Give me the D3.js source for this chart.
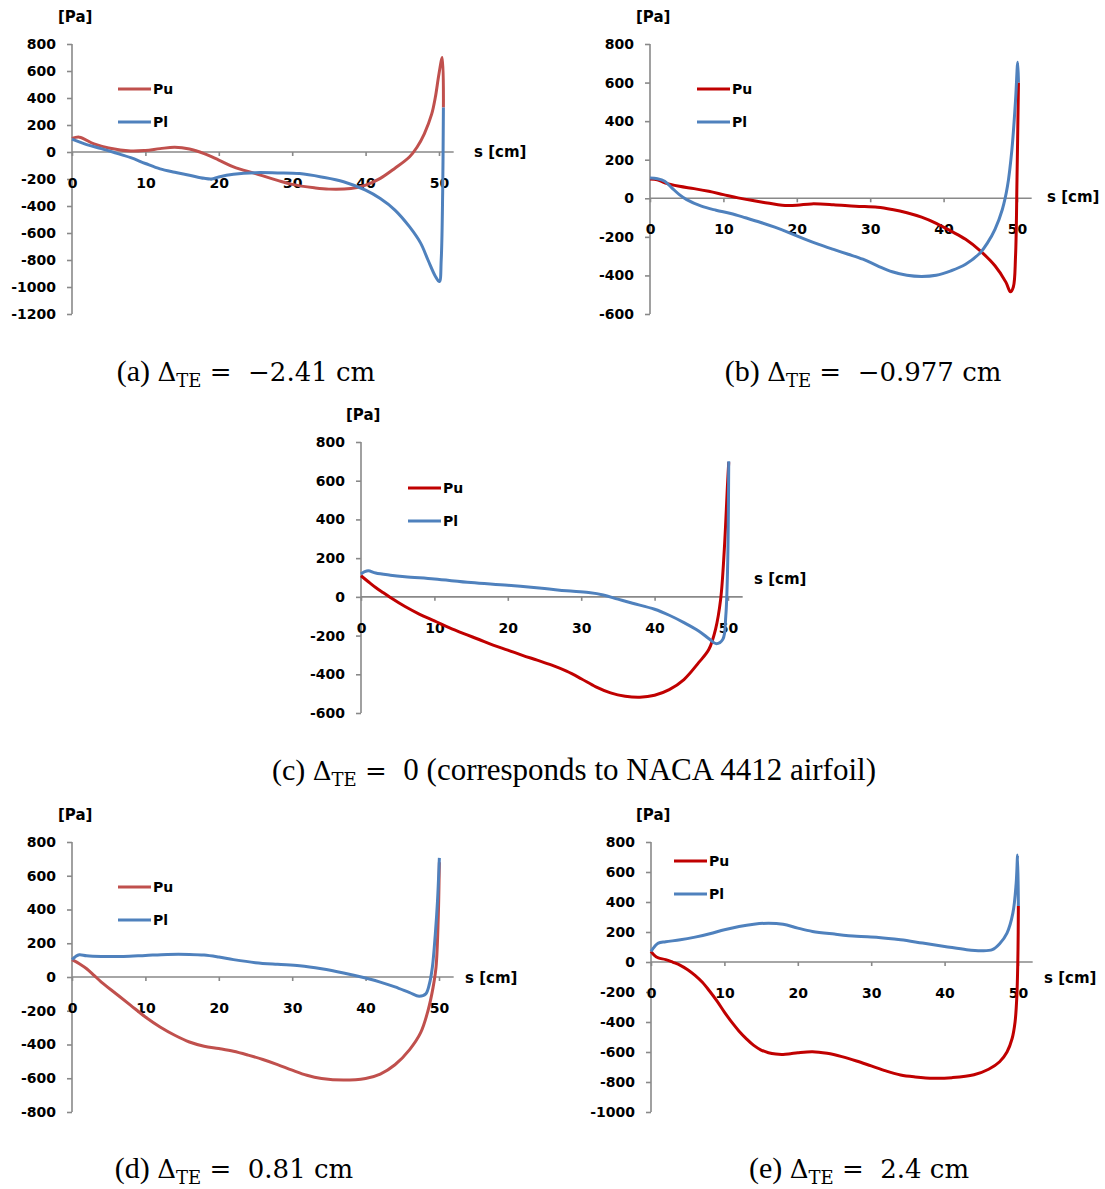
<!DOCTYPE html>
<html lang="en">
    <head>
        <meta charset="utf-8">
        <title>Pressure distribution</title>
        <script src="https://cdnjs.cloudflare.com/ajax/libs/d3/7.8.5/d3.min.js"></script>
        <style>
        body{
            margin:0;
            background-color:white;
        }
        svg text{
            font-family:"DejaVu Sans", sans-serif;
            font-weight:bold;
        }
        svg text.caption{
            font-family:"DejaVu Serif", serif;
            font-weight:normal;
            white-space:pre;
        }
        </style>
    </head>
    <body>
        <script type="text/javascript">

            // x ticks are the same for every chart
            var sTicks = [0, 10, 20, 30, 40, 50];

            var yTicksA = [800, 600, 400, 200, 0, -200, -400, -600, -800, -1000, -1200];
            var yTicksB = [800, 600, 400, 200, 0, -200, -400, -600];
            var yTicksC = [800, 600, 400, 200, 0, -200, -400, -600];
            var yTicksD = [800, 600, 400, 200, 0, -200, -400, -600, -800];
            var yTicksE = [800, 600, 400, 200, 0, -200, -400, -600, -800, -1000];

            // [s in cm, pressure in Pa]
            var puA = [[0,100],[1,110],[3,60],[5,30],[8,8],[10,12],[12,25],[14,35],[16,22],[18,-12],[20,-60],[22,-110],[25,-160],[28,-210],[30,-240],[33,-265],[35,-275],[38,-270],[40,-245],[42,-195],[44,-120],[46,-35],[47,35],[48,135],[49,280],[49.5,405],[50,580],[50.45,700],[50.6,330]];
            var plA = [[0,95],[2,55],[4,25],[6,-8],[8,-42],[10,-85],[12,-125],[14,-150],[16,-172],[18,-195],[19,-200],[20,-185],[22,-165],[25,-153],[28,-155],[31,-160],[34,-185],[37,-220],[40,-283],[42,-345],[44,-430],[46,-555],[47.5,-675],[48.5,-800],[49.5,-920],[50.05,-960],[50.3,-800],[50.5,-300],[50.6,330]];

            var puB = [[0,100],[1,96],[2,80],[4,62],[6,50],[8,36],[10,19],[12,2],[14,-12],[16,-24],[18,-36],[20,-36],[22,-29],[25,-33],[28,-41],[31,-46],[33,-58],[35,-75],[37,-98],[39,-130],[41,-170],[43,-213],[45,-273],[47,-350],[48.5,-436],[49.1,-485],[49.5,-460],[49.8,-300],[50.0,100],[50.2,600]];
            var plB = [[0,105],[1,101],[2,88],[3,53],[4,19],[5,-7],[7,-41],[9,-62],[11,-79],[13,-101],[15,-124],[17,-150],[19,-179],[21,-210],[23,-239],[25,-265],[27,-290],[29,-316],[31,-350],[33,-381],[35,-399],[37,-405],[39,-399],[41,-376],[43,-342],[45,-282],[46,-230],[47,-161],[48,-58],[48.7,62],[49.3,250],[49.8,508],[50.1,706],[50.2,600]];

            var puC = [[0,109],[1,78],[2,48],[3,22],[4,-3],[6,-50],[8,-90],[10,-124],[12,-159],[14,-190],[16,-219],[18,-249],[20,-275],[22,-302],[24,-327],[26,-353],[28,-384],[30,-423],[32,-465],[34,-496],[36,-513],[38,-518],[40,-508],[42,-479],[44,-427],[46,-340],[47.4,-271],[48.3,-168],[49,-12],[49.5,247],[49.95,593],[50.1,696]];
            var plC = [[0,118],[0.5,130],[1,135],[2,123],[4,112],[6,104],[10,92],[15,74],[20,60],[25,43],[28,31],[31,22],[33,10],[35,-12],[37,-33],[40,-64],[42,-95],[44,-133],[46,-176],[47.5,-219],[48.4,-242],[49.3,-219],[49.7,-98],[49.95,160],[50.1,700]];

            var puD = [[0,103],[1,79],[2,49],[3,10],[4,-30],[6,-99],[8,-168],[10,-237],[12,-296],[14,-345],[16,-385],[18,-410],[20,-424],[22,-440],[24,-463],[26,-489],[28,-519],[30,-552],[32,-582],[34,-601],[37,-611],[40,-601],[42,-575],[44,-520],[46,-430],[47.5,-330],[48.5,-200],[49.2,-60],[49.6,60],[49.9,355],[50.05,680]];
            var plD = [[0,103],[0.5,122],[1,132],[2,126],[4,122],[7,122],[10,128],[13,134],[16,134],[18,130],[20,118],[22,103],[25,85],[28,75],[31,67],[34,49],[37,24],[40,-6],[42,-30],[44,-59],[46,-93],[47.3,-114],[48.2,-100],[48.7,-40],[49.1,59],[49.5,256],[49.8,453],[50.05,706]];

            var puE = [[0,71],[0.5,42],[1,27],[2,16],[3,-2],[4,-22],[5,-51],[6,-89],[7,-135],[8,-195],[9,-261],[10,-334],[11,-401],[12,-461],[13,-512],[14,-556],[15,-587],[16,-605],[17,-614],[18,-616],[19,-611],[20,-605],[22,-598],[24,-609],[26,-631],[28,-660],[30,-693],[32,-726],[34,-753],[36,-766],[38.5,-775],[41,-771],[44,-752],[46,-715],[47.5,-665],[48.5,-600],[49.2,-510],[49.6,-400],[49.85,-220],[50.0,82],[50.05,374]];
            var plE = [[0,71],[0.5,104],[1,126],[2,135],[4,148],[6,166],[8,188],[10,215],[12,237],[14,252],[16,259],[18,252],[20,226],[22,204],[25,186],[28,171],[31,164],[34,148],[37,126],[40,104],[43,82],[45,75],[46.5,82],[47.5,122],[48.5,193],[49.3,326],[49.75,525],[49.95,713],[50.05,374]];

            var captionLetters = ["(a)", "(b)", "(c)", "(d)", "(e)"];
            var captionValues = ["\u22122.41 cm", "\u22120.977 cm", "0", "0.81 cm", "2.4 cm"];
            var captionNotes = ["", "", " (corresponds to NACA 4412 airfoil)", "", ""];

            var w = 1105;
            var h = 1189;
            var pxPerCm = 7.34;

            //where each chart sits on the page
            var panels = [
                {pu: puA, pl: plA, ticks: yTicksA, puColor: "#C0504D", x0: 72, top: 44, bottom: 314, sx: 474, sy: 152, lx: 118, ly: 89, px: 58, py: 17, cx: 246, cy: 381},
                {pu: puB, pl: plB, ticks: yTicksB, puColor: "#C00000", x0: 650, top: 44, bottom: 314, sx: 1047, sy: 197, lx: 697, ly: 89, px: 636, py: 17, cx: 863, cy: 381},
                {pu: puC, pl: plC, ticks: yTicksC, puColor: "#C00000", x0: 361, top: 442, bottom: 713, sx: 754, sy: 579, lx: 408, ly: 488, px: 346, py: 415, cx: 574, cy: 780},
                {pu: puD, pl: plD, ticks: yTicksD, puColor: "#C0504D", x0: 72, top: 842, bottom: 1112, sx: 465, sy: 978, lx: 118, ly: 887, px: 58, py: 815, cx: 234, cy: 1178},
                {pu: puE, pl: plE, ticks: yTicksE, puColor: "#C00000", x0: 651, top: 842, bottom: 1112, sx: 1044, sy: 978, lx: 674, ly: 861, px: 636, py: 815, cx: 859, cy: 1178}
            ];
            var plColor = "#4F81BD";
            var axisColor = "#898989";

            var svg = d3.select("body")
                        .append("svg")
                        .attr("width", w)
                        .attr("height", h);

            panels.forEach(function(p, i){
                var g = svg.append("g");

                var x = d3.scaleLinear()
                          .domain([0, 52])
                          .range([p.x0, p.x0 + 52 * pxPerCm]);
                var y = d3.scaleLinear()
                          .domain([p.ticks[0], p.ticks[p.ticks.length - 1]])
                          .range([p.top, p.bottom]);

                //excel writes a plain hyphen for negatives
                var plain = function(d){ return String(d); };

                //y axis with ticks to the left
                var yAxis = d3.axisLeft(y)
                              .tickValues(p.ticks)
                              .tickSize(5)
                              .tickSizeOuter(0)
                              .tickPadding(11)
                              .tickFormat(plain);
                var ya = g.append("g")
                          .attr("transform", "translate(" + p.x0 + ",0)")
                          .call(yAxis);

                //x axis runs along zero, labels pushed down below it
                var xAxis = d3.axisBottom(x)
                              .tickValues(sTicks)
                              .tickSize(4)
                              .tickSizeOuter(0)
                              .tickPadding(0)
                              .tickFormat(plain);
                var xa = g.append("g")
                          .attr("transform", "translate(0," + y(0) + ")")
                          .call(xAxis);
                xa.selectAll(".tick text")
                  .attr("y", 31)
                  .attr("dy", "0.35em");

                [ya, xa].forEach(function(a){
                    a.select(".domain").attr("stroke", axisColor).attr("stroke-width", 1.6);
                    a.selectAll(".tick line").attr("stroke", axisColor).attr("stroke-width", 1.6);
                    a.selectAll(".tick text")
                     .attr("fill", "#000")
                     .style("font-size", "14px")
                     .style("font-family", "DejaVu Sans")
                     .style("font-weight", "bold");
                });
                //the x line should start at the y axis
                xa.select(".domain").attr("d", "M" + p.x0 + ",0H" + x(52));
                ya.select(".domain").attr("d", "M0," + p.top + "V" + p.bottom);

                var line = d3.line()
                             .x(function(d){ return x(d[0]); })
                             .y(function(d){ return y(d[1]); })
                             .curve(d3.curveCatmullRom.alpha(0.5));

                g.append("path")
                 .attr("d", line(p.pu))
                 .attr("fill", "none")
                 .attr("stroke", p.puColor)
                 .attr("stroke-width", 3)
                 .attr("stroke-linejoin", "round");
                g.append("path")
                 .attr("d", line(p.pl))
                 .attr("fill", "none")
                 .attr("stroke", plColor)
                 .attr("stroke-width", 3)
                 .attr("stroke-linejoin", "round");

                //axis titles
                g.append("text")
                 .attr("x", p.px)
                 .attr("y", p.py)
                 .attr("dy", "0.35em")
                 .style("font-size", "15px")
                 .text("[Pa]");
                g.append("text")
                 .attr("x", p.sx)
                 .attr("y", p.sy)
                 .attr("dy", "0.35em")
                 .style("font-size", "15px")
                 .text("s [cm]");

                //legend
                var legend = [["Pu", p.puColor, p.ly], ["Pl", plColor, p.ly + 33]];
                legend.forEach(function(l){
                    g.append("line")
                     .attr("x1", p.lx).attr("x2", p.lx + 33)
                     .attr("y1", l[2]).attr("y2", l[2])
                     .attr("stroke", l[1])
                     .attr("stroke-width", 3);
                    g.append("text")
                     .attr("x", p.lx + 35)
                     .attr("y", l[2])
                     .attr("dy", "0.35em")
                     .style("font-size", "14px")
                     .text(l[0]);
                });

                //caption under the chart: times for words, a wider serif for the math
                var cap = svg.append("text")
                             .attr("class", "caption")
                             .attr("xml:space", "preserve")
                             .attr("x", p.cx)
                             .attr("y", p.cy)
                             .attr("text-anchor", "middle")
                             .style("font-size", "26px");
                cap.append("tspan")
                   .style("font-family", "Liberation Serif")
                   .style("font-size", "30px")
                   .text(captionLetters[i] + " ");
                cap.append("tspan").text("\u0394");
                cap.append("tspan").attr("dy", 6).style("font-size", "18px").text("TE");
                cap.append("tspan").attr("dy", -6).text(" =  ");
                if (captionNotes[i]) {
                    cap.append("tspan")
                       .style("font-family", "Liberation Serif")
                       .style("font-size", "31px")
                       .text(captionValues[i] + captionNotes[i]);
                } else {
                    cap.append("tspan").text(captionValues[i]);
                }
            });

        </script>
    </body>
</html>
